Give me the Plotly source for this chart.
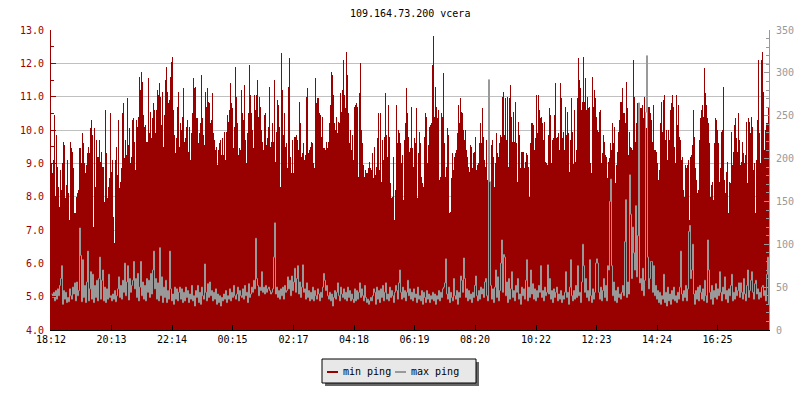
import plotly.graph_objects as go

tick_labels = ["18:12","20:13","22:14","00:15","02:17","04:18","06:19","08:20","10:22","12:23","14:24","16:25"]
tick_minutes = [0,121,242,363,485,606,727,848,970,1091,1212,1333]
minutes_per_sample = 2

min_ping_a = [9.0,8.7,9.1,10.45,8.0,9.85,8.9,8.3,7.7,8.8,8.2,9.0,9.65,9.55,7.95,8.35,9.1,8.1,7.3,9.65,9.45,9.35,8.85,7.5,7.5,8.0,8.1,8.2,9.45,9.47,9.0,9.9,9.6,9.0,8.7,8.95,9.3,9.5,9.3,10.05,10.3,9.85,7.1,10.05,8.3,9.7,9.2,9.2,9.7,9.05,9.35,8.9,8.9,7.85,10.6,9.3,7.95,8.3,8.55,10.5,8.75,9.1,7.4,6.6,9.1,9.5,8.65,10.3,8.25,8.45,8.85,10.5,10.8,9.15,9.7,9.25,10.95,9.55,10.05,9.0,9.2,10.3,10.35,9.65,8.8,10.3,10.1,10.4,11.6,11.2,11.75,11.45,10.45,10.1,10.15,9.65,9.65,11.55,9.9,10.55,9.75,10.35,10.8,10.6,9.9,10.6,11.2,11.05,11.4,11.0,10.15,11.15,9.5,10.45,11.5,11.9,11.15,10.8,10.9,11.6,12.05,12.2,10.6,9.85,9.3,9.75,10.7,11.15,9.5,10.2,10.0,10.4,11.25,9.65,9.75,10.1,10.3,9.35,10.1,9.1,9.9,10.5,11.55,11.25,11.3,10.35,10.35,9.6,9.9,10.2,11.65,10.35,9.85,9.55,11.15,10.7,11.25,10.85,10.8,10.2,10.3,11.1,9.9,9.7,9.4,9.5,8.95,9.4,9.6,9.7,9.25,9.75,9.25,9.95,9.1,9.95,10.45,10.25,10.6,11.4,10.8,10.65,9.45,10.1,11.9,11.0,10.2,9.25,9.45,9.4,11.2,10.5,10.3,11.35,9.7,9.0,9.9,10.5,11.95,11.05,10.5,10.0,9.45,11.05,10.6,11.05,11.5,10.4,11.0,10.7,10.0,9.65,9.4,10.45,10.5,9.55,9.75,10.1,11.3,9.5]
min_ping_b = [9.65,10.2,9.65,11.5,9.05,9.95,10.9,10.75,10.1,8.3,12.3,11.2,9.85,10.5,9.5,9.6,8.85,11.3,12.15,9.2,8.7,9.7,8.7,9.8,9.8,9.85,9.7,9.4,10.85,10.2,9.2,9.3,9.6,9.1,9.25,11.0,11.25,9.3,9.4,9.5,9.65,9.6,9.0,8.85,11.55,10.8,10.95,10.95,10.5,10.45,9.8,10.4,9.45,9.45,9.4,9.65,9.45,9.65,10.2,10.75,11.75,11.65,11.05,10.2,10.0,10.4,9.9,10.25,10.2,11.1,10.55,11.2,12.1,11.05,10.65,12.35,11.65,10.5,9.6,10.0,9.4,9.85,9.1,10.7,10.75,10.8,10.7,8.6,11.1,12.0,10.0,9.6,8.95,8.6,8.8,8.7,8.7,8.85,9.05,8.85,8.8,9.3,8.55,9.5,8.65,8.9,9.75,10.5,8.8,10.5,8.45,9.7,9.1,9.8,11.1,9.85,9.2,10.75,9.8,8.4,7.95,8.0,9.2,7.3,8.2,10.75,9.6,10.0,9.9,9.6,9.0,9.25,7.9,9.7,10.2,11.25,10.5,9.8,9.35,9.45,10.7,9.45,8.9,9.75,9.6,10.65,7.95,9.3,9.95,9.6,8.6,8.4,8.3,9.8,10.5,10.4,9.0,9.55,10.1,10.15,10.2,11.95,12.82,10.4,11.3,10.7,10.35,10.6,8.5,8.6,10.5,10.4,11.7,9.6,8.6,8.9,10.05,9.85,7.5,7.55,8.55,9.3,8.8,9.2,9.3,9.4,9.9,10.75,10.2,10.95,10.55,10.5,10.0,9.7,10.0,9.4,9.2,8.9,8.75,9.55,9.5,8.85,9.3,9.35,9.8,8.8,8.95,9.0,9.6,10.2,9.6,10.65,9.8,9.1,8.9,9.7,8.5,9.95,9.5,8.3,9.55,9.7,9.2,8.3,9.0,9.9,9.3,9.2,9.6,9.85,9.8,11.0,11.15,9.85,10.95,9.7,11.0,8.9,10.95,11.35,10.4,9.65,10.55,9.65,10.85,9.6,8.45,10.25,9.85,8.85,9.35,9.35,9.35,8.85,9.05,9.3,9.25,8.9,8.0,9.6,10.2,10.2,10.15,9.4,9.75,11.05,9.9,11.05,10.6]
min_ping_c = [10.35,10.4,10.2,9.7,10.25,9.05,9.0,8.95,9.85,10.65,10.45,9.0,9.7,9.75,10.45,11.4,9.75,9.8,9.9,9.4,11.4,10.95,9.75,9.95,9.4,10.7,9.85,10.55,9.9,8.75,9.7,10.95,9.95,8.98,10.6,9.05,9.4,10.95,12.15,11.5,11.25,10.6,10.85,12.2,10.85,11.55,10.6,11.0,10.65,10.7,9.0,8.7,11.6,10.7,11.2,10.95,10.4,10.0,9.95,10.55,10.6,9.0,9.3,9.85,9.65,9.25,9.2,8.55,9.05,9.15,9.6,9.4,10.2,9.6,10.1,8.4,8.95,9.35,9.95,10.3,10.85,10.85,11.25,10.5,10.5,10.2,11.45,10.65,9.25,9.95,9.5,9.45,9.4,12.1,11.0,9.65,10.2,10.8,9.95,9.2,10.65,10.65,10.75,10.35,11.0,10.35,10.05,11.05,10.7,10.7,10.5,10.3,9.65,10.75,9.4,9.4,9.35,9.0,8.5,8.8,10.2,10.85,9.95,10.9,11.05,9.7,10.0,9.1,10.0,9.7,10.6,10.8,11.05,10.7,9.5,9.0,11.05,10.15,10.75,9.8,9.7,9.1,9.2,8.2,8.0,8.95,8.85,8.95,9.1,7.3,9.2,9.25,9.55,10.6,9.8,8.85,8.5,8.1,8.2,9.7,10.35,10.6,10.75,10.4,11.85,11.1,10.75,10.35,10.2,9.6,8.0,8.35,8.45,7.9,9.6,10.35,10.3,10.0,9.6,8.45,8.85,9.95,10.0,11.3,8.5,8.1,8.75,9.05,7.5,8.45,8.4,9.95,8.95,9.35,10.15,10.35,9.75,9.35,10.5,9.7,8.95,9.05,9.65,9.3,9.0,9.25,10.25,8.4,10.35,10.25,9.9,10.4,10.1,8.8,9.0,7.5,9.1,10.3,12.1,9.9,9.0,12.1,12.35,11.15,9.4,10.0,10.2,10.2,10.65,9.6]

max_ping_a = [42,38,44,34,46,36,48,40,52,60,75,30,46,36,44,32,38,33,48,40,
36,50,42,55,34,56,40,46,119,87,33,82,38,52,32,56,92,34,48,68,
36,65,32,52,38,58,34,60,85,36,58,70,34,50,32,48,36,65,38,40,
34,42,36,46,33,40,48,62,38,52,36,58,44,78,40,56,75,35,60,44,
52,58,80,48,60,38,66,34,50,80,40,56,36,52,34,60,44,58,38,66,
42,70,92,48,60,36,55,34,96,40,62,32,50,38,58,32,46,36,92,48,
34,42,30,50,36,48,34,44,50,36,48,32,44,34,50,38,46,32,42,36,
52,34,40,28,46,38,52,32,44,30,50,40,36,77,44,34,54,38,56,40,
46,34,44,36,48,30,42,32,40,28,38,34,42,36,46,32,40,36,48,34,
44,38,52,40,36,42,50,34,46,40,38,48,36,52,40,44,32,54,38,42,
50,44,58,48,107,60,52,40,50,46,68,44,50,42,52,44,48,50,46,42]
max_ping_b = [44,48,85,125,42,50,38,46,36,48,40,50,36,52,44,46,62,48,58,40,
63,46,56,72,44,60,75,42,56,38,50,76,44,48,36,55,38,46,34,44,
36,50,34,46,40,36,48,42,34,44,38,50,66,58,46,52,40,36,44,34,
42,28,38,46,36,44,55,40,34,50,42,38,48,36,44,34,50,38,46,34,
42,36,32,48,34,46,36,44,55,38,48,40,34,52,38,32,36,30,34,38,
34,40,48,44,30,50,36,46,32,48,38,52,34,44,55,36,42,34,50,38,
46,40,32,44,52,46,36,55,70,44,36,50,38,46,34,44,58,40,48,36,
44,34,48,38,42,32,50,36,40,34,46,30,44,38,32,46,36,42,32,40,
36,44,34,42,30,40,36,46,34,44,38,48,50,55,83,42,36,50,32,44,
38,34,60,40,36,46,30,44,38,63,58,44,84,60,38,48,34,46,36,42,
32,44,38,52,63,40,34,46,36,50,42,48,38,56,60,40,34,292,173,52,
36,48,32,50,70,38,62,34,46,78,105,44,88,85,40,56,32,60,36,48,
68,38,46,34,52,44,60,36,42,30,50,40,48,36,58,82,34,50,38,70,
42,54,36,48,34,46,38,52,44,75]
max_ping_c = [38,46,34,50,40,44,76,42,60,36,46,32,48,38,44,50,34,42,36,46,
32,40,36,44,68,38,44,30,50,82,40,34,46,36,52,38,75,40,44,32,
56,100,75,44,60,38,46,34,82,40,32,48,36,44,78,83,78,44,36,50,
34,46,60,38,52,34,75,70,150,176,75,40,56,34,46,32,50,38,42,36,
44,52,40,103,152,38,56,42,181,135,60,120,90,70,145,62,110,265,55,60,
46,72,40,58,254,320,85,48,60,80,80,44,75,40,52,36,46,32,44,30,
40,36,65,32,44,28,50,34,42,30,46,36,50,34,40,32,44,36,50,92,
42,34,46,38,52,34,48,115,122,60,70,100,42,30,46,36,50,34,52,44,
36,48,34,58,40,32,105,70,44,36,52,30,46,38,54,36,48,40,68,44,
34,50,42,62,36,46,32,48,40,52,65,34,44,36,50,40,46,55,38,55,
44,36,60,42,34,52,70,38,46,58,68,44,36,54,58,42,48,36,44,38,
50,52,40,46,34,65,85,30,48,34]

min_ping = min_ping_a + min_ping_b + min_ping_c
max_ping = max_ping_a + max_ping_b + max_ping_c

RED = "#990000"; GREY = "#999999"; FONT = "DejaVu Sans Mono"
L, R, T, B = 51, 769, 30, 330
def px(v): return (v - L) / (R - L)
def py(v): return (B - v) / (B - T)

def t(vals): return [(i + 0.5) * minutes_per_sample for i in range(len(vals))]

fig = go.Figure()
fig.add_trace(go.Bar(x=t(min_ping), y=min_ping, name="min ping", width=minutes_per_sample,
                     marker=dict(color="rgba(153,0,0,0.999)", line=dict(width=0)), showlegend=False, yaxis="y"))
fig.add_trace(go.Scatter(x=t(max_ping), y=max_ping, name="max ping", mode="lines",
                         line=dict(color=GREY, width=1, shape="hv"), showlegend=False, yaxis="y2"))

def rect(x0, x1, y0, y1, fill, line=None):
    return dict(type="rect", xref="paper", yref="paper", x0=px(x0), x1=px(x1), y0=py(y0), y1=py(y1),
                fillcolor=fill, line=dict(color=line or fill, width=1 if line else 0), layer="above")
shapes = [rect(325, 479, 362, 386, "#666666"),
          rect(322, 476, 359, 383, "#E8E8E8", "#000000"),
          rect(327, 338, 371, 373, RED),
          rect(395, 406, 371, 373, GREY)]
annots = [dict(xref="paper", yref="paper", x=px(341), y=py(371), text="min ping", showarrow=False,
               xanchor="left", yanchor="middle", font=dict(family=FONT, size=10, color="#000")),
          dict(xref="paper", yref="paper", x=px(409), y=py(371), text="max ping", showarrow=False,
               xanchor="left", yanchor="middle", font=dict(family=FONT, size=10, color="#000")),
          dict(xref="paper", yref="paper", x=px(409.5), y=py(13), text="109.164.73.200 vcera", showarrow=False,
               xanchor="center", yanchor="middle", font=dict(family=FONT, size=10, color="#000"))]

fig.update_layout(
    width=800, height=400, autosize=False, margin=dict(l=L, r=800-R, t=T, b=400-B),
    paper_bgcolor="white", plot_bgcolor="white", bargap=0, showlegend=False,
    font=dict(family=FONT, size=10), shapes=shapes, annotations=annots,
    xaxis=dict(range=[0, 1436], tickvals=tick_minutes, ticktext=tick_labels, ticks="inside", ticklen=5,
               tickcolor="#000", showgrid=False, showline=True, linecolor="#000", linewidth=1, zeroline=False,
               automargin=False, tickfont=dict(family=FONT, size=10, color="#000")),
    yaxis=dict(range=[4, 13], dtick=1, tickformat=".1f", ticks="inside", ticklen=5, tickcolor=RED,
               showline=True, linecolor=RED, linewidth=1, gridcolor="#C0C0C0", gridwidth=1, zeroline=False,
               automargin=False, tickfont=dict(family=FONT, size=10, color=RED), ticklabelstandoff=4,
               minor=dict(dtick=0.5, ticks="inside", ticklen=3, tickcolor=RED, showgrid=False)),
    yaxis2=dict(range=[0, 350], dtick=50, overlaying="y", side="right", anchor="x", ticks="inside", ticklen=5,
                tickcolor=GREY, showline=True, linecolor=GREY, linewidth=1, showgrid=False, zeroline=False,
                automargin=False, tickfont=dict(family=FONT, size=10, color=GREY), ticklabelstandoff=4,
                minor=dict(dtick=10, ticks="inside", ticklen=3, tickcolor=GREY, showgrid=False)),
)
fig.write_html("out.html", config={"displayModeBar": False},
               post_script="document.body.style.margin='0';")
